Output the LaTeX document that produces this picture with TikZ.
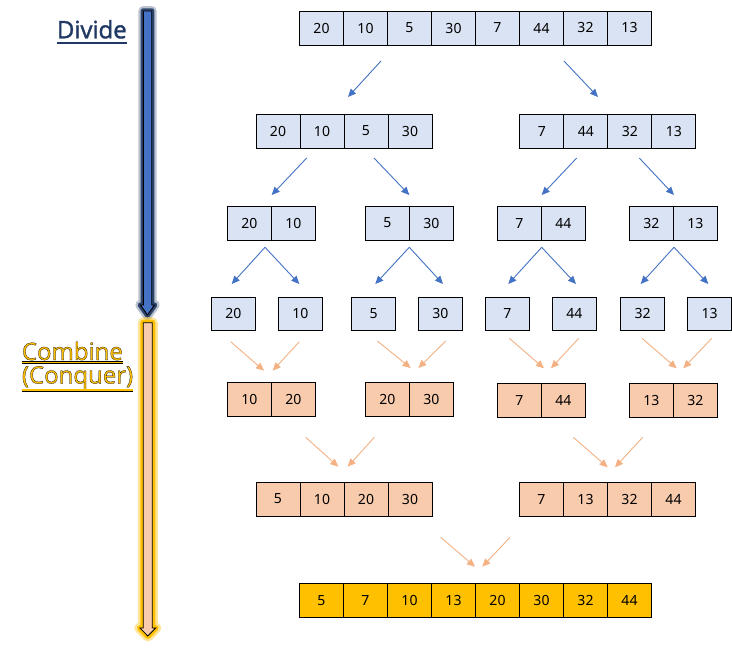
\documentclass[tikz,border=0pt]{standalone}
\usepackage{fontspec}
\setmainfont{Noto Sans}
\newfontfamily\lblfont{Open Sans}[AutoFakeBold=1.5]
\newfontfamily\combfont{Open Sans}[BoldFeatures={FakeBold=1}, AutoFakeBold=1]
\usetikzlibrary{arrows.meta}
\definecolor{cellblue}{HTML}{DAE3F3}
\definecolor{cellorange}{HTML}{F8CBAD}
\definecolor{cellgold}{HTML}{FFC000}
\definecolor{arrblue}{HTML}{4472C4}
\definecolor{arrorange}{HTML}{F4B183}
\definecolor{navy}{HTML}{1F3864}
\newcommand\cellrow[5]{\foreach \v [count=\i] in {#5} {\node[#1] (#2\i) at ({#3+22+44*(\i-1)},#4) {\v};}}
\newcommand\outlinetext[1]{\pgfsetstrokecolor{black}#1}
\begin{document}
\begin{tikzpicture}[x=1pt,y=-1pt,
  cellbase/.style={draw=black, line width=0.9pt, minimum width=44pt, minimum height=34pt, inner sep=0pt, font=\fontsize{14}{14}\selectfont},
  bcell/.style={cellbase, fill=cellblue},
  ocell/.style={cellbase, fill=cellorange},
  gcell/.style={cellbase, fill=cellgold},
  barrow/.style={draw=arrblue, line width=0.9pt, -{Triangle[length=8pt,width=7pt]}},
  oarrow/.style={draw=arrorange, line width=0.9pt, -{Triangle[length=8pt,width=7pt]}},
  lbl/.style={anchor=base west, inner sep=0pt, font=\fontsize{24}{24}\lblfont\bfseries},
  clbl/.style={anchor=base west, inner sep=0pt, font=\fontsize{24}{24}\combfont\bfseries}
]
\useasboundingbox[fill=white] (0,0) rectangle (732,648);

% ---- big side arrows ----
% blue (divide)
\draw[navy, opacity=0.3, line width=10pt, line join=round]
  (143.3,11) -- (151.7,11) -- (151.7,305) -- (154.5,305) -- (147.5,315) -- (140.5,305) -- (143.3,305) -- cycle;
\draw[navy, opacity=0.9, line width=5.5pt, line join=round]
  (143.3,11) -- (151.7,11) -- (151.7,305) -- (154.5,305) -- (147.5,315) -- (140.5,305) -- (143.3,305) -- cycle;
\draw[black, fill=arrblue, line width=0.9pt]
  (143.3,11) -- (151.7,11) -- (151.7,305) -- (154.5,305) -- (147.5,315) -- (140.5,305) -- (143.3,305) -- cycle;
% orange (combine)
\draw[cellgold, opacity=0.4, line width=11pt, line join=round]
  (143.3,322.7) -- (152.3,322.7) -- (152.3,628) -- (155.7,628) -- (147.8,636) -- (139.9,628) -- (143.3,628) -- cycle;
\draw[cellgold, line width=6pt, line join=round]
  (143.3,322.7) -- (152.3,322.7) -- (152.3,628) -- (155.7,628) -- (147.8,636) -- (139.9,628) -- (143.3,628) -- cycle;
\draw[black, fill=cellorange, line width=0.8pt]
  (143.3,322.7) -- (152.3,322.7) -- (152.3,628) -- (155.7,628) -- (147.8,636) -- (139.9,628) -- (143.3,628) -- cycle;

% ---- labels ----
\node[lbl, text=navy] (divide) at (56.7,38.3) {Divide};
\draw[navy, line width=1.8pt] ([yshift=-4.3pt]divide.base west) -- ([yshift=-4.3pt]divide.base east);
\node[clbl, text=cellgold] (combine) at (21.7,360) {\outlinetext{Combine}};
\node[clbl, text=cellgold] (conquer) at (21.7,383.5) {\outlinetext{(Conquer)}};
\draw[black, line width=3pt] ([yshift=-2.6pt]combine.base west) -- ([yshift=-2.6pt]combine.base east);
\draw[cellgold, line width=1.4pt] ([yshift=-2.6pt]combine.base west) -- ([yshift=-2.6pt]combine.base east);
\draw[black, line width=3pt] ([yshift=-6.5pt]conquer.base west) -- ([yshift=-6.5pt]conquer.base east);
\draw[cellgold, line width=1.4pt] ([yshift=-6.5pt]conquer.base west) -- ([yshift=-6.5pt]conquer.base east);

% ---- arrays ----
\cellrow{bcell}{a}{299.5}{28}{20,10,5,30,7,44,32,13}
\cellrow{bcell}{b}{256}{131}{20,10,5,30}
\cellrow{bcell}{c}{519.8}{131}{7,44,32,13}
\cellrow{bcell}{d}{227.3}{223}{20,10}
\cellrow{bcell}{e}{365.3}{223}{5,30}
\cellrow{bcell}{f}{497.3}{223}{7,44}
\cellrow{bcell}{g}{629.3}{223}{32,13}
\node[bcell, minimum height=33pt] (h1) at (233.3,313.8) {20};
\node[bcell, minimum height=33pt] (h2) at (300.3,313.8) {10};
\node[bcell, minimum height=33pt] (h3) at (373.7,313.8) {5};
\node[bcell, minimum height=33pt] (h4) at (440.3,313.8) {30};
\node[bcell, minimum height=33pt] (h5) at (507.3,313.8) {7};
\node[bcell, minimum height=33pt] (h6) at (574.3,313.8) {44};
\node[bcell, minimum height=33pt] (h7) at (642.7,313.8) {32};
\node[bcell, minimum height=33pt] (h8) at (709.6,313.8) {13};
\cellrow{ocell}{i}{227.3}{399.5}{10,20}
\cellrow{ocell}{j}{365.3}{399.5}{20,30}
\cellrow{ocell}{k}{497.3}{400}{7,44}
\cellrow{ocell}{l}{629.3}{400}{13,32}
\cellrow{ocell}{m}{256}{499}{5,10,20,30}
\cellrow{ocell}{n}{519.5}{499}{7,13,32,44}
\cellrow{gcell}{o}{299.5}{600.8}{5,7,10,13,20,30,32,44}

% ---- connector end points ----
\coordinate (p1s) at (381,61);    \coordinate (p1e) at (348,97);
\coordinate (p2s) at (564,61);    \coordinate (p2e) at (598,97);
\coordinate (q1s) at (306.7,158); \coordinate (q1e) at (271.7,195);
\coordinate (q2s) at (374,158);   \coordinate (q2e) at (409.3,195);
\coordinate (q3s) at (576.7,158); \coordinate (q3e) at (541.7,195);
\coordinate (q4s) at (639.3,158); \coordinate (q4e) at (674,195);
\coordinate (r1) at (265,247.3);  \coordinate (r1a) at (231.7,284); \coordinate (r1b) at (299.3,284);
\coordinate (r2) at (409.3,247.3);\coordinate (r2a) at (375.3,284); \coordinate (r2b) at (443,284);
\coordinate (r3) at (541.7,247.3);\coordinate (r3a) at (508.3,284); \coordinate (r3b) at (576,284);
\coordinate (r4) at (674,247.3);  \coordinate (r4a) at (640.7,284); \coordinate (r4b) at (708.3,284);
\coordinate (s1s) at (230.7,341.7); \coordinate (s1e) at (264,370.7);
\coordinate (s2s) at (299.3,341.7); \coordinate (s2e) at (272.7,370.7);
\coordinate (s3s) at (377.3,341);   \coordinate (s3e) at (410.7,368);
\coordinate (s4s) at (445.7,341);   \coordinate (s4e) at (418.3,368);
\coordinate (s5s) at (509.3,338.3); \coordinate (s5e) at (544,368.3);
\coordinate (s6s) at (578.7,338.3); \coordinate (s6e) at (551,368.3);
\coordinate (s7s) at (642,338.3);   \coordinate (s7e) at (676.7,368.3);
\coordinate (s8s) at (711.7,338.3); \coordinate (s8e) at (683.3,368.3);
\coordinate (t1s) at (305.7,437.3); \coordinate (t1e) at (338.3,466.7);
\coordinate (t2s) at (374.3,437.3); \coordinate (t2e) at (347.7,466.7);
\coordinate (t3s) at (573.3,437.3); \coordinate (t3e) at (607.7,467.3);
\coordinate (t4s) at (642.7,437.3); \coordinate (t4e) at (615,467.3);
\coordinate (u1s) at (440.7,537.3); \coordinate (u1e) at (475,566.7);
\coordinate (u2s) at (510,537.3);   \coordinate (u2e) at (482.3,566.7);

% ---- connectors ----
\draw[barrow] (p1s) -- (p1e);
\draw[barrow] (p2s) -- (p2e);
\foreach \k in {1,2,3,4} {\draw[barrow] (q\k s) -- (q\k e);}
\foreach \k in {1,2,3,4} {\draw[barrow] (r\k) -- (r\k a); \draw[barrow] (r\k) -- (r\k b);}
\foreach \k in {1,...,8} {\draw[oarrow] (s\k s) -- (s\k e);}
\foreach \k in {1,2,3,4} {\draw[oarrow] (t\k s) -- (t\k e);}
\draw[oarrow] (u1s) -- (u1e);
\draw[oarrow] (u2s) -- (u2e);
\end{tikzpicture}
\end{document}
